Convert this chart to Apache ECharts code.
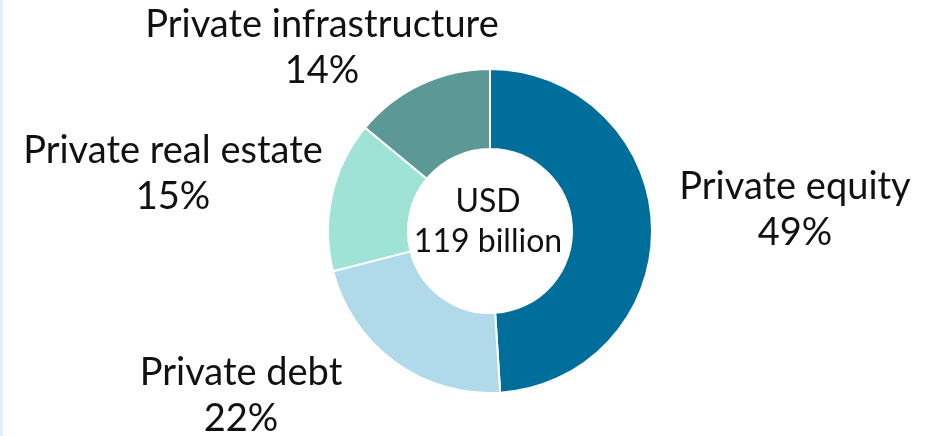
<!DOCTYPE html>
<html>
<head>
<meta charset="utf-8">
<script src="https://cdn.jsdelivr.net/npm/echarts@6/dist/echarts.min.js"></script>
<style>
  html, body { margin: 0; padding: 0; background: #ffffff; }
  #chart { width: 937px; height: 436px; border-left: 3px solid #dcf0f9; box-sizing: border-box; }
</style>
</head>
<body>
<div id="chart"></div>
<script>
// Allocation by asset class, share of total (%)
const categories = ['Private equity', 'Private debt', 'Private real estate', 'Private infrastructure'];
const shares = [49, 22, 15, 14];
const totalLabel = ['USD', '119 billion'];

const palette = ['#006e9a', '#b0d9ea', '#9ee3d6', '#5b9896'];

// Label anchor points (block centres) for each slice, in the same order
const labelAnchors = [
  [795, 210],
  [241, 396],
  [173, 174],
  [322, 48]
];

const chart = echarts.init(document.getElementById('chart'), null, { renderer: 'canvas' });

chart.setOption({
  animation: false,
  color: palette,
  graphic: [{
    type: 'text',
    x: 488 - 3,
    y: 222,
    style: {
      text: totalLabel.join('\n'),
      font: '32px Lato',
      fill: '#111111',
      align: 'center',
      verticalAlign: 'middle',
      lineHeight: 40
    }
  }],
  series: [{
    type: 'pie',
    center: [490 - 3, 231],
    radius: [82, 162],
    startAngle: 90,
    clockwise: true,
    avoidLabelOverlap: false,
    itemStyle: { borderColor: '#ffffff', borderWidth: 2 },
    label: {
      show: true,
      position: 'outside',
      formatter: p => p.name + '\n' + p.value + '%',
      fontFamily: 'Lato',
      fontSize: 38,
      lineHeight: 46,
      color: '#111111',
      align: 'center'
    },
    labelLine: { show: false },
    labelLayout: params => ({
      x: labelAnchors[params.dataIndex][0] - 3,
      y: labelAnchors[params.dataIndex][1],
      align: 'center',
      verticalAlign: 'middle'
    }),
    data: categories.map((name, i) => ({ name: name, value: shares[i] }))
  }]
});
</script>
</body>
</html>
